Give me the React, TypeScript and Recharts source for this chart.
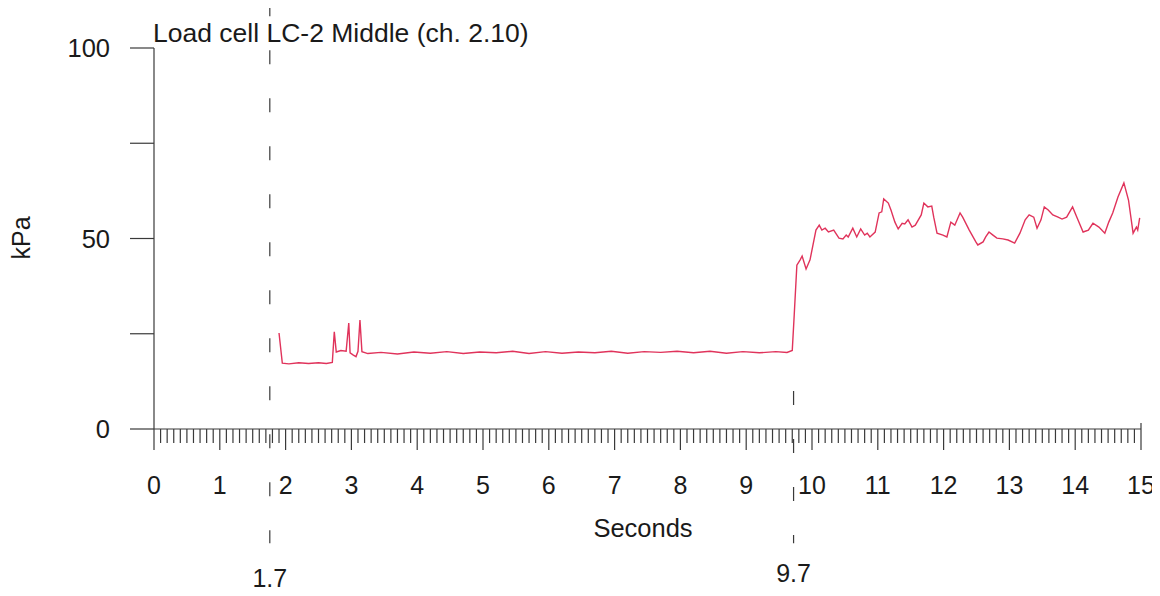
import {
  LineChart,
  Line,
  XAxis,
  YAxis,
  ReferenceLine,
} from "recharts";

// time (s) and load cell pressure (kPa)
const timeSeconds = [
  1.9, 1.95, 2.05, 2.2, 2.35, 2.5, 2.62, 2.71, 2.74, 2.77, 2.84, 2.92, 2.96, 2.98,
  3.03, 3.07, 3.1, 3.13, 3.16, 3.25, 3.45, 3.7, 3.95, 4.2, 4.45, 4.7, 4.95, 5.2,
  5.45, 5.7, 5.95, 6.2, 6.45, 6.7, 6.95, 7.2, 7.45, 7.7, 7.95, 8.2, 8.45, 8.7,
  8.95, 9.2, 9.45, 9.62, 9.7, 9.73, 9.77, 9.82, 9.85, 9.91, 9.97, 10.06, 10.11,
  10.15, 10.2, 10.25, 10.33, 10.41, 10.47, 10.52, 10.55, 10.62, 10.68, 10.74,
  10.8, 10.84, 10.88, 10.96, 11.02, 11.06, 11.09, 11.16, 11.2, 11.26, 11.31,
  11.37, 11.41, 11.46, 11.52, 11.57, 11.66, 11.7, 11.76, 11.82, 11.85, 11.9,
  11.99, 12.05, 12.11, 12.17, 12.25, 12.29, 12.39, 12.49, 12.52, 12.6, 12.64,
  12.69, 12.75, 12.81, 12.9, 12.98, 13.08, 13.16, 13.24, 13.3, 13.37, 13.42,
  13.48, 13.53, 13.59, 13.66, 13.74, 13.8, 13.87, 13.96, 14.03, 14.12, 14.2,
  14.27, 14.36, 14.45, 14.51, 14.57, 14.65, 14.74, 14.81, 14.88, 14.93, 14.95,
  14.98,
];

const pressureKpa = [
  25.2, 17.3, 17.1, 17.4, 17.2, 17.4, 17.2, 17.5, 25.5, 20.2, 20.6, 20.4, 27.8, 20.0,
  19.4, 19.0, 20.4, 28.6, 20.3, 19.8, 20.1, 19.7, 20.2, 19.9, 20.3, 19.8, 20.2, 20.0,
  20.4, 19.8, 20.3, 19.9, 20.2, 20.0, 20.4, 19.9, 20.3, 20.1, 20.4, 20.0, 20.4, 19.9,
  20.3, 20.0, 20.3, 20.1, 20.6, 30.0, 43.0, 44.4, 45.4, 42.0, 44.4, 52.2, 53.5,
  52.2, 52.7, 51.7, 52.2, 50.1, 49.9, 50.9, 50.4, 52.7, 50.4, 52.5,
  50.9, 51.4, 50.4, 51.7, 56.7, 57.0, 60.4, 59.3, 57.5, 54.3, 52.5,
  54.0, 53.8, 54.9, 53.0, 53.5, 56.2, 59.3, 58.3, 58.5, 55.6, 51.4,
  50.9, 50.4, 54.3, 53.5, 56.7, 55.6, 52.2, 49.1, 48.3, 49.1, 50.4,
  51.7, 50.9, 50.1, 49.9, 49.6, 48.8, 51.4, 54.9, 56.2, 55.6, 52.7,
  54.9, 58.3, 57.5, 56.2, 55.6, 55.1, 55.6, 58.3, 55.4, 51.7, 52.2,
  54.0, 53.0, 51.4, 54.3, 56.7, 60.9, 64.6, 60.1, 51.4, 53.0, 52.2,
  55.4,
];

const yTicks = [0, 25, 50, 75, 100];
const yLabelled = [0, 50, 100];
// minor ticks every 0.1 s, labelled on whole seconds
const xTicks = Array.from({ length: 151 }, (_, i) => i / 10);

// event markers (drawn position, printed label)
const markerTimes = [1.76, 9.72];
const markerLabels = ["1.7", "9.7"];
const markerTops = [112, 10];
const markerLabelGap = [26, 21];

const data = timeSeconds.map((t, i) => ({ t, p: pressureKpa[i] }));

const AXIS = "#3a3a3a";
const TEXT = "#1a1a1a";
const LINE = "#e0335b";
const FONT = "'Liberation Sans', Arial, sans-serif";

function SecondsTick(props: any) {
  const { x, y, payload } = props;
  const v = payload.value as number;
  const whole = Math.abs(v - Math.round(v)) < 1e-6;
  return (
    <g>
      <line
        x1={x}
        x2={x}
        y1={v === 15 ? y - 6 : y}
        y2={y + (whole ? 21 : 14)}
        stroke={AXIS}
        strokeWidth={1.2}
      />
      {whole && (
        <text x={x} y={y + 65} textAnchor="middle" fontSize={25} fill={TEXT} fontFamily={FONT}>
          {Math.round(v)}
        </text>
      )}
    </g>
  );
}

export default function App() {
  return (
    <div
      style={{
        position: "relative",
        width: 1160,
        height: 596,
        marginTop: -8,
        marginLeft: -8,
        background: "#fff",
        fontFamily: FONT,
      }}
    >
      <LineChart
        width={1160}
        height={596}
        data={data}
        margin={{ top: 48, right: 19, bottom: 67, left: 34 }}
      >
        <XAxis
          dataKey="t"
          type="number"
          domain={[0, 15]}
          ticks={xTicks}
          interval={0}
          height={100}
          tickSize={0}
          tickMargin={0}
          tickLine={false}
          axisLine={{ stroke: AXIS, strokeWidth: 1.2 }}
          tick={<SecondsTick />}
        />
        <YAxis
          type="number"
          domain={[0, 100]}
          ticks={yTicks}
          interval={0}
          width={120}
          tickSize={24}
          tickMargin={20}
          axisLine={{ stroke: AXIS, strokeWidth: 1.2 }}
          tickLine={{ stroke: AXIS, strokeWidth: 1.2 }}
          tick={{ fontSize: 25.5, fill: TEXT, fontFamily: FONT }}
          tickFormatter={(v: number) => (yLabelled.includes(v) ? String(v) : "")}
        />
        {markerTimes.map((mx, i) => (
          <ReferenceLine
            key={markerLabels[i]}
            segment={[
              { x: mx, y: markerTops[i] },
              { x: mx, y: -30 },
            ]}
            ifOverflow="visible"
            stroke={AXIS}
            strokeWidth={1.2}
            strokeDasharray="14 34"
            label={{
              value: markerLabels[i],
              position: "bottom",
              offset: markerLabelGap[i],
              fontSize: 25,
              fill: TEXT,
              fontFamily: FONT,
            }}
          />
        ))}
        <Line
          type="linear"
          dataKey="p"
          stroke={LINE}
          strokeWidth={1.4}
          dot={false}
          isAnimationActive={false}
        />
      </LineChart>
      <svg
        width={1160}
        height={596}
        style={{ position: "absolute", left: 0, top: 0, pointerEvents: "none" }}
      >
        <text x={643} y={6} textAnchor="middle" fontSize={25} fill={TEXT} fontFamily={FONT}>
          Seconds
        </text>
        <text x={153} y={42} fontSize={26.5} fill={TEXT} fontFamily={FONT}>
          Load cell LC-2 Middle (ch. 2.10)
        </text>
        <text x={643} y={537} textAnchor="middle" fontSize={25.5} fill={TEXT} fontFamily={FONT}>
          Seconds
        </text>
        <text
          x={21}
          y={238}
          textAnchor="middle"
          dominantBaseline="central"
          fontSize={25}
          fill={TEXT}
          fontFamily={FONT}
          transform="rotate(-90, 21, 238)"
        >
          kPa
        </text>
      </svg>
    </div>
  );
}
